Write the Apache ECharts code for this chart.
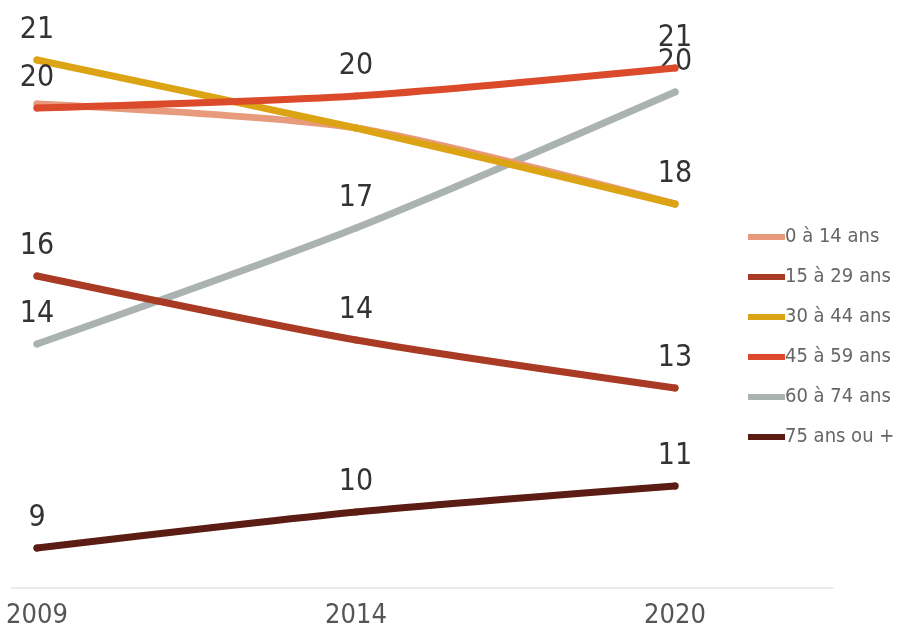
<!DOCTYPE html>
<html>
<head>
<meta charset="utf-8">
<script src="https://cdn.jsdelivr.net/npm/echarts@6/dist/echarts.min.js"></script>
<style>html,body{margin:0;padding:0;background:#fff}#c{width:899px;height:635px}</style>
</head>
<body>
<div id="c"></div>
<script>
var years = ['2009', '2014', '2020'];
var seriesNames = ['0 à 14 ans', '15 à 29 ans', '30 à 44 ans', '45 à 59 ans', '60 à 74 ans', '75 ans ou +'];
var v0_14 = [20.1, 19.5, 17.6];
var v15_29 = [15.8, 14.2, 13.0];
var v30_44 = [21.2, 19.5, 17.6];
var v45_59 = [20.0, 20.3, 21.0];
var v60_74 = [14.1, 17.0, 20.4];
var v75 = [9.0, 9.9, 10.55];
// which points carry a value label
var lab0_14 = [false, false, false];
var lab15_29 = [true, true, true];
var lab30_44 = [true, false, true];
var lab45_59 = [true, true, true];
var lab60_74 = [true, true, true];
var lab75 = [true, true, true];

var colors = ['#E89A7C', '#A93A24', '#DCA414', '#DC4A2C', '#ABB3B2', '#5A1C13'];
var zOrder = [3, 6, 4, 5, 2, 7];
var values = [v0_14, v15_29, v30_44, v45_59, v60_74, v75];
var labels = [lab0_14, lab15_29, lab30_44, lab45_59, lab60_74, lab75];

var FONT = "'Liberation Sans Narrow', 'DejaVu Sans Condensed', 'Roboto', sans-serif";

var series = seriesNames.map(function (name, i) {
  return {
    name: name,
    type: 'line',
    xAxisIndex: 0,
    yAxisIndex: 0,
    smooth: 0.25,
    z: zOrder[i],
    symbol: 'circle',
    symbolSize: 7,
    showSymbol: true,
    itemStyle: { color: colors[i], borderWidth: 0 },
    color: colors[i],
    lineStyle: { width: 7, color: colors[i], cap: 'round' },
    label: {
      show: true,
      position: 'top',
      distance: 11,
      color: '#333',
      fontSize: 30,
      fontFamily: FONT,
      formatter: function (p) {
        return labels[p.seriesIndex][p.dataIndex] ? String(Math.round(p.value)) : '';
      }
    },
    emphasis: { disabled: true },
    data: values[i]
  };
});

var chart = echarts.init(document.getElementById('c'));
chart.setOption({
  animation: false,
  backgroundColor: '#fff',
  grid: [
    { left: 37, right: 224, top: 28, bottom: 47 },
    { left: 12, right: 66, top: 28, bottom: 47 }
  ],
  xAxis: [
    {
      type: 'category', gridIndex: 0, data: years, boundaryGap: false,
      axisLine: { show: false }, axisTick: { show: false },
      axisLabel: { color: '#555', fontSize: 27, fontFamily: FONT, margin: 14 }
    },
    {
      type: 'value', gridIndex: 1, min: 0, max: 1,
      axisLine: { show: true, lineStyle: { color: '#EBEBEB', width: 2 } },
      axisTick: { show: false }, axisLabel: { show: false }, splitLine: { show: false }
    }
  ],
  yAxis: [
    { type: 'value', gridIndex: 0, min: 8, max: 22, show: false, splitLine: { show: false } },
    { type: 'value', gridIndex: 1, min: 0, max: 1, show: false, splitLine: { show: false } }
  ],
  legend: {
    orient: 'vertical',
    left: 743,
    top: 221,
    icon: 'rect',
    itemWidth: 37,
    itemHeight: 6,
    itemGap: 18,
    data: seriesNames,
    textStyle: { color: '#666', fontSize: 20, lineHeight: 22, fontFamily: FONT, padding: [0, 0, 0, -5] }
  },
  series: series
});
</script>
</body>
</html>
